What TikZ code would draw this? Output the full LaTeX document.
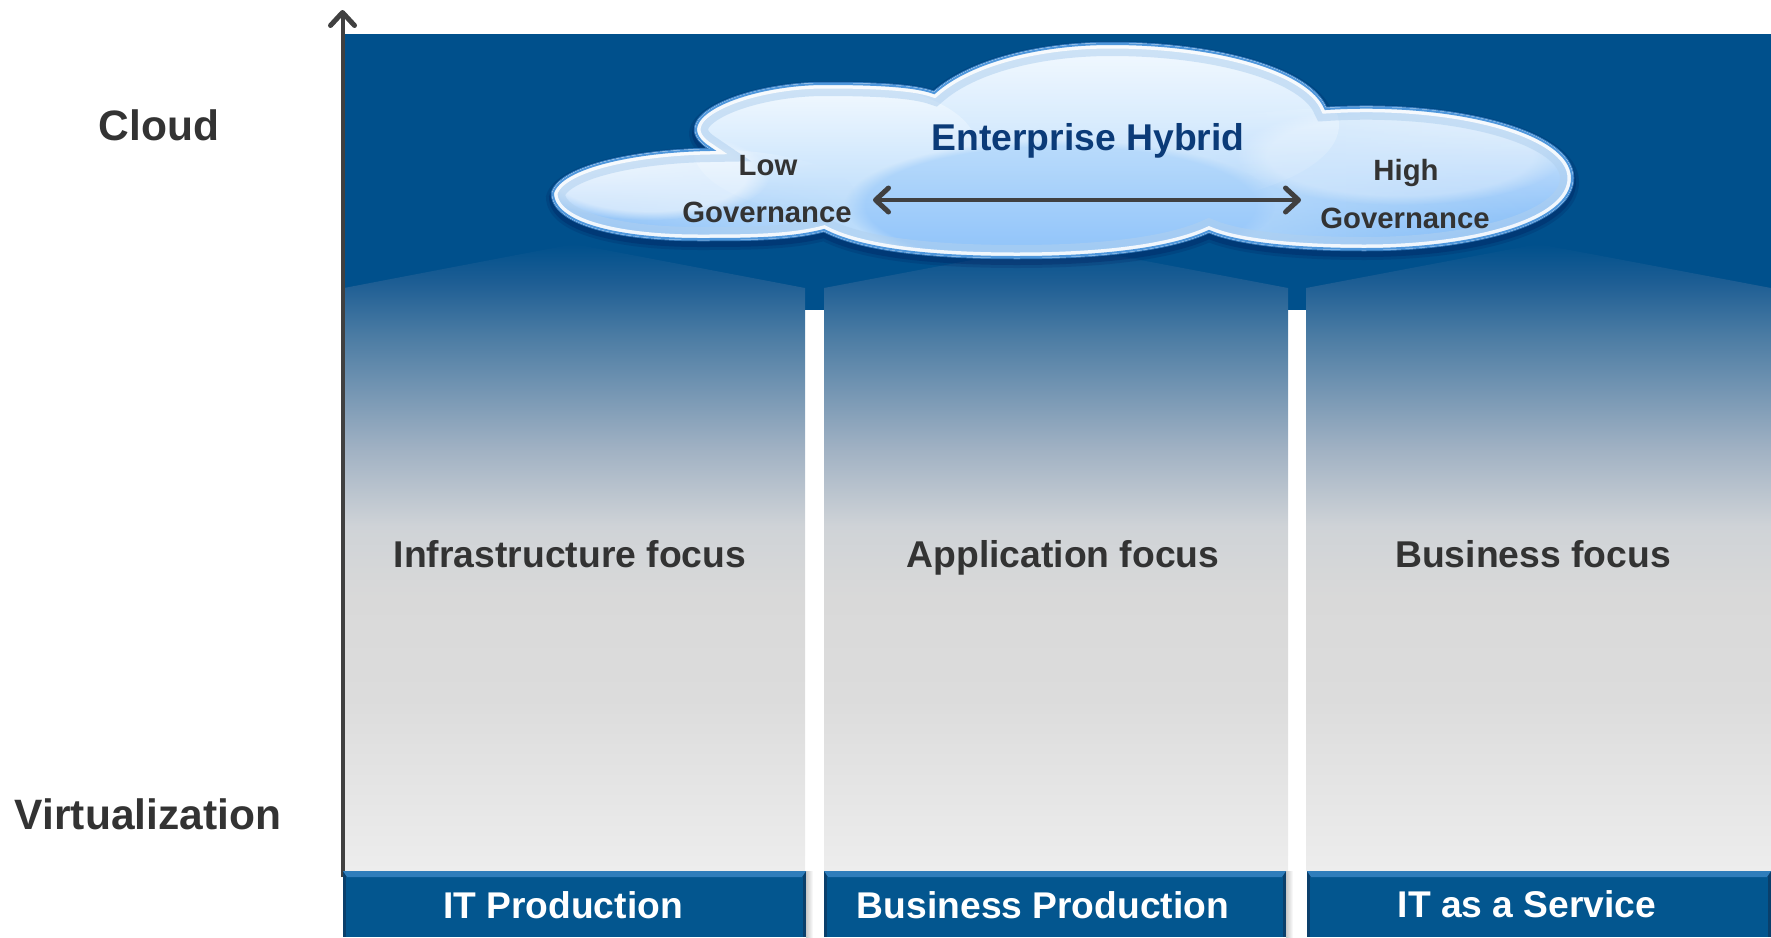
\documentclass[tikz,border=0pt]{standalone}
\usepackage{fontspec}
\setmainfont{Liberation Sans}
\usetikzlibrary{arrows.meta,fadings}

\definecolor{bannerblue}{HTML}{00508C}
\definecolor{barblue}{HTML}{03568F}
\definecolor{barlit}{HTML}{2F7DBB}
\definecolor{bardark}{HTML}{0A3F6B}
\definecolor{inkgrey}{HTML}{333333}
\definecolor{axisgrey}{HTML}{404040}
\definecolor{hybridblue}{HTML}{0B3B78}
\definecolor{rimblue}{HTML}{4F97DC}
\definecolor{lobewhite}{HTML}{F4FAFF}
\definecolor{lobepale}{HTML}{E6F3FF}
\definecolor{lobemid}{HTML}{BBDCFB}
\definecolor{lobecore}{HTML}{8AC0F9}
\definecolor{lobedeep}{HTML}{70B1F6}
\definecolor{fadea}{HTML}{EDEDED}
\definecolor{fadeb}{HTML}{DCDCDC}
\definecolor{fadec}{HTML}{D9D9D9}
\definecolor{faded}{HTML}{CFD3D7}
\definecolor{fadee}{HTML}{A0B1C3}
\definecolor{fadef}{HTML}{4A7BA3}
\definecolor{fadeg}{HTML}{1E5E94}

\pgfdeclareverticalshading{columnfade}{100bp}{
  color(0bp)=(fadea);
  color(25bp)=(fadea);
  color(38.8bp)=(fadeb);
  color(46.8bp)=(fadec);
  color(52.5bp)=(faded);
  color(58.7bp)=(fadee);
  color(67.8bp)=(fadef);
  color(71.9bp)=(fadeg);
  color(75bp)=(bannerblue);
  color(100bp)=(bannerblue)}

\tikzfading[name=holdleft, left color=transparent!0, middle color=transparent!0, right color=transparent!100]
\tikzfading[name=holdright, left color=transparent!100, middle color=transparent!0, right color=transparent!0]

\tikzset{
  columnbody/.style={shade, shading=columnfade},
  barface/.style={fill=barblue},
  barlight/.style={fill=barlit},
  barshade/.style={fill=bardark},
  barglow/.style={shade, left color=black!22, right color=white},
  sidelabel/.style={anchor=base, font=\bfseries\fontsize{42.5}{42.5}\selectfont, text=inkgrey},
  focuslabel/.style={anchor=base, font=\bfseries\fontsize{37.3}{37.3}\selectfont, text=inkgrey},
  govlabel/.style={anchor=base, font=\bfseries\fontsize{29.3}{29.3}\selectfont, text=inkgrey},
  barlabel/.style={anchor=base, font=\bfseries\fontsize{37.2}{37.2}\selectfont, text=white},
  lobe/.style={shade, shading angle=0},
  glint/.style={fill=white, path fading=circle with fuzzy edge 20 percent},
  greyarrow/.style={draw=axisgrey, line width=4pt, line join=round},
  barbtip/.tip={Straight Barb[length=13pt,width=24pt,line width=5pt,round]}
}

\def\cloudoutline{(552,193) .. controls (560,165) and (640,150) .. (710,149)
  .. controls (660,118) and (745,83) .. (825,83)
  .. controls (875,83) and (915,85) .. (934,92)
  .. controls (970,60) and (1040,43) .. (1111,43)
  .. controls (1220,43) and (1310,70) .. (1326,108)
  .. controls (1450,100) and (1573,130) .. (1573,178)
  .. controls (1573,225) and (1470,250) .. (1365,250)
  .. controls (1300,250) and (1240,245) .. (1209,232)
  .. controls (1170,250) and (1100,258) .. (1017,258)
  .. controls (930,258) and (860,250) .. (824,231)
  .. controls (790,240) and (745,240) .. (699,240)
  .. controls (620,240) and (552,225) .. (552,193) -- cycle}

\begin{document}
\begin{tikzpicture}[x=1pt,y=-1pt]
\useasboundingbox (0,0) rectangle (1771,937);

% banner and columns
\fill[bannerblue] (344,34) rectangle (1771,310);
\path[columnbody] (344,288) -- (574,244) -- (805,288) -- (805,871) -- (344,871) -- cycle;
\path[columnbody] (824,288) -- (1056,244) -- (1288,288) -- (1288,871) -- (824,871) -- cycle;
\path[columnbody] (1306,288) -- (1538,244) -- (1771,288) -- (1771,871) -- (1306,871) -- cycle;

% cloud
\begin{scope}[yshift=-4pt]
\draw[black!75!blue, opacity=.12, line width=12pt] \cloudoutline;
\draw[black!75!blue, opacity=.18, line width=6pt] \cloudoutline;
\end{scope}
\draw[rimblue, opacity=.7, line width=2.5pt] \cloudoutline;
\begin{scope}
\clip \cloudoutline;
\fill[lobemid] (540,30) rectangle (1580,270);
\path[lobe, top color=lobewhite, bottom color=lobemid] (1111,125) ellipse (228pt and 85pt);
\path[lobe, top color=lobewhite, bottom color=lobemid] (835,148) ellipse (142pt and 66pt);
\path[lobe, top color=lobewhite, bottom color=lobedeep, path fading=holdleft] (700,195) ellipse (155pt and 46pt);
\fill[glint, opacity=.5] (650,175) ellipse (120pt and 45pt);
\path[lobe, top color=lobepale, bottom color=lobedeep, path fading=holdright] (1345,180) ellipse (232pt and 72pt);
\fill[glint, opacity=.3] (1400,155) ellipse (165pt and 50pt);
\path[lobe, top color=lobemid, bottom color=lobecore, path fading=circle with fuzzy edge 10 percent] (1060,205) ellipse (215pt and 65pt);
\draw[rimblue!45!white, opacity=.55, line width=26pt] \cloudoutline;
\draw[white, opacity=.85, line width=11pt] \cloudoutline;
\draw[rimblue, line width=4pt] \cloudoutline;
\end{scope}

% labels
\node[sidelabel] (cloudlabel) at (159,140.5) {Cloud};
\node[sidelabel] (virtlabel) at (148,829.5) {Virtualization};
\node[focuslabel] (infrafocus) at (570,567.3) {Infrastructure focus};
\node[focuslabel] (appfocus) at (1063,567.3) {Application focus};
\node[focuslabel] (busfocus) at (1533,567.3) {Business focus};
\node[focuslabel, text=hybridblue] (hybrid) at (1088,150.8) {Enterprise Hybrid};
\node[govlabel] (lowa) at (768,175.4) {Low};
\node[govlabel] (lowb) at (767,222.4) {Governance};
\node[govlabel] (higha) at (1406,180) {High};
\node[govlabel] (highb) at (1405,228) {Governance};

% double arrow in the cloud
\coordinate (lowend) at (873,200);
\coordinate (highend) at (1301,200);
\draw[greyarrow, barbtip-barbtip] (lowend) -- (highend);

% axis
\coordinate (axisbase) at (342.5,877);
\coordinate (axistip) at (342.5,10);
\draw[greyarrow, -barbtip] (axisbase) -- (axistip);

% bars at the bottom
\path[barglow] (806,871) rectangle (813,937);
\path[barglow] (1286,871) rectangle (1293,937);
\fill[bardark] (343,871) rectangle (806,937);
\fill[barface] (346,877) rectangle (803,937);
\fill[barlight] (343,871) -- (806,871) -- (802,877) -- (347,877) -- cycle;
\fill[bardark] (824,871) rectangle (1286,937);
\fill[barface] (827,877) rectangle (1283,937);
\fill[barlight] (824,871) -- (1286,871) -- (1282,877) -- (828,877) -- cycle;
\fill[bardark] (1307,871) rectangle (1771,937);
\fill[barface] (1310,877) rectangle (1768,937);
\fill[barlight] (1307,871) -- (1771,871) -- (1767,877) -- (1311,877) -- cycle;
\node[barlabel] (barone) at (563,918.5) {IT Production};
\node[barlabel] (bartwo) at (1043,918.5) {Business Production};
\node[barlabel] (barthree) at (1527,917.5) {IT as a Service};
\end{tikzpicture}
\end{document}
